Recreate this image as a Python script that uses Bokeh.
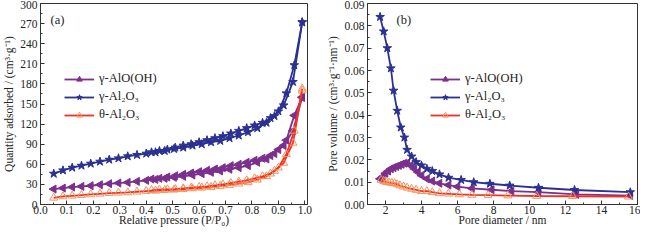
import numpy as np
from bokeh.plotting import figure
from bokeh.layouts import row
from bokeh.models import Legend, LegendItem, Label, NumeralTickFormatter, Range1d, SingleIntervalTicker
from bokeh.embed import file_html
from bokeh.resources import INLINE

# ---------------- (a) N2 isotherms ----------------
p_ads = [0.05, 0.085, 0.12, 0.155, 0.19, 0.225, 0.26, 0.295, 0.33, 0.365, 0.40, 0.435, 0.47, 0.505,
         0.54, 0.575, 0.61, 0.645, 0.68, 0.715, 0.75, 0.785, 0.82, 0.855, 0.885, 0.92, 0.955, 0.99]
p_des = [0.99, 0.96, 0.93, 0.90, 0.87, 0.84, 0.81, 0.78, 0.75, 0.72, 0.69, 0.66, 0.63, 0.60,
         0.57, 0.54, 0.51, 0.48, 0.45, 0.42]

boe_ads = [23, 24.5, 26, 27, 28, 29.5, 31, 32, 33, 34.5, 36, 37.5, 39, 40.5,
           42, 44, 46, 48, 50, 52.5, 55, 58, 63, 68, 76, 88, 110, 160]
boe_des = [160, 133, 96, 82, 73, 69, 66, 63, 60, 58, 55, 53, 51, 49,
           47, 45, 43, 41, 39, 38]

gam_ads = [46, 51, 55, 58, 61, 64, 67, 69, 72, 74, 76, 78, 80, 83,
           85, 88, 90, 93, 95, 99, 103, 108, 114, 122, 132, 148, 183, 272]
gam_des = [272, 208, 166, 139, 129, 122, 118, 114, 110, 106, 102, 99, 96, 93,
           90, 88, 85, 82, 80, 78]

the_ads = [10, 12, 13, 14, 15, 16, 17, 17.5, 18, 19, 20, 20.5, 21.5, 22,
           23, 24, 25, 26, 27.5, 29, 31, 33, 37, 42, 50, 62, 92, 170]
the_des = [173, 110, 75, 55, 46, 42, 39, 36, 34, 32, 30, 28.5, 27, 26,
           25, 24, 23, 22.5, 22, 21.5]

# ---------------- (b) pore size distribution ----------------
d_boe = [1.7, 1.85, 2.0, 2.15, 2.3, 2.45, 2.6, 2.75, 2.9, 3.05, 3.2, 3.4, 3.6, 3.8, 4.0,
         4.3, 4.6, 5.0, 5.5, 6.0, 6.8, 7.9, 9.0, 10.5, 12.6, 15.6]
v_boe = [0.0115, 0.0125, 0.014, 0.015, 0.016, 0.0165, 0.017, 0.0175, 0.018, 0.0185, 0.0185,
         0.0175, 0.016, 0.0145, 0.013, 0.0115, 0.0105, 0.0095, 0.0087, 0.008, 0.0072,
         0.0066, 0.006, 0.0055, 0.0045, 0.004]

d_gam = [1.7, 1.9, 2.1, 2.3, 2.45, 2.65, 2.85, 3.05, 3.2, 3.45, 3.7, 4.0, 4.3, 4.6, 5.0,
         5.5, 6.2, 6.9, 7.8, 8.9, 10.5, 12.5, 15.6]
v_gam = [0.084, 0.0775, 0.070, 0.061, 0.051, 0.042, 0.0345, 0.030, 0.0245, 0.0215, 0.019,
         0.0175, 0.016, 0.015, 0.0135, 0.012, 0.011, 0.010, 0.0093, 0.0085, 0.0075,
         0.0065, 0.0055]

d_the = [1.75, 1.9, 2.05, 2.2, 2.35, 2.5, 2.65, 2.8, 3.0, 3.2, 3.45, 3.7, 4.0, 4.3, 4.6,
         5.0, 5.5, 6.1, 6.8, 7.7, 8.8, 10.4, 12.4, 15.5]
v_the = [0.011, 0.0105, 0.010, 0.0098, 0.0096, 0.0095, 0.009, 0.0085, 0.008, 0.0075, 0.007,
         0.0065, 0.006, 0.006, 0.0055, 0.005, 0.0048, 0.0045, 0.0043, 0.0042, 0.004,
         0.0038, 0.0037, 0.0035]

labels = ["\u03b3-AlO(OH)", "\u03b3-Al\u2082O\u2083", "\u03b8-Al\u2082O\u2083"]
xlabels = ["Relative pressure (P/P\u2080)", "Pore diameter / nm"]
ylabels = ["Quantity adsorbed / (cm\u00b3\u00b7g\u207b\u00b9)",
           "Pore volume / (cm\u00b3\u00b7g\u207b\u00b9\u00b7nm\u207b\u00b9)"]

PURPLE = "#7d2f8e"
BLUE = "#2b3192"
RED = "#ee3124"
ORANGE = "#f7925a"
FONT = "Liberation Serif, 'Times New Roman', Times, serif"
H = 228


def style(p):
    p.outline_line_color = "#333333"
    p.outline_line_width = 1
    p.grid.visible = False
    p.background_fill_color = "white"
    p.border_fill_color = "white"
    for ax in (p.xaxis[0], p.yaxis[0]):
        ax.major_tick_in = 4
        ax.major_tick_out = 0
        ax.minor_tick_in = 2
        ax.minor_tick_out = 0
        ax.axis_line_color = "#333333"
        ax.major_tick_line_color = "#333333"
        ax.minor_tick_line_color = "#333333"
        ax.major_label_text_font = FONT
        ax.major_label_text_font_size = "11.5px"
        ax.major_label_text_color = "#222222"
        ax.axis_label_text_font = FONT
        ax.axis_label_text_font_size = "11.5px"
        ax.axis_label_text_font_style = "normal"
        ax.axis_label_text_color = "#222222"
        ax.major_label_standoff = 3
        ax.axis_label_standoff = 2
    p.xaxis[0].major_label_standoff = 1
    p.xaxis[0].axis_label_standoff = -3


def add_series(p, xs_list, ys_list, color, mcolor, marker, fill, angle, size):
    rends = []
    for xs, ys in zip(xs_list, ys_list):
        l = p.line(xs, ys, line_color=color, line_width=1.8)
        s = p.scatter(xs, ys, marker=marker, size=size, angle=angle,
                      line_color=mcolor, fill_color=(mcolor if fill else None),
                      line_width=1)
        rends += [l, s]
    return rends


def make_legend(p, items, loc):
    leg = Legend(items=items, location=loc, orientation="vertical",
                 background_fill_alpha=0, border_line_alpha=0,
                 padding=0, margin=0, spacing=3, glyph_width=30, glyph_height=14,
                 label_height=14, label_standoff=5,
                 label_text_font=FONT, label_text_font_size="12.5px",
                 label_text_color="#222222")
    p.add_layout(leg)


# ---------- panel (a) ----------
pa = figure(width=318, height=H, output_backend="svg", toolbar_location=None,
            x_range=Range1d(0, 1.01), y_range=Range1d(0, 300),
            min_border_left=39, min_border_right=11, min_border_top=3)
style(pa)
pa.xaxis.axis_label = xlabels[0]
pa.yaxis.axis_label = ylabels[0]
pa.xaxis.ticker = SingleIntervalTicker(interval=0.1, num_minor_ticks=2)
pa.yaxis.ticker = SingleIntervalTicker(interval=30, num_minor_ticks=2)
pa.xaxis.formatter = NumeralTickFormatter(format="0.0")

ra_boe = add_series(pa, [p_ads, p_des], [boe_ads, boe_des], PURPLE, PURPLE, "triangle", True, np.pi / 2, 8)
ra_gam = add_series(pa, [p_ads, p_des], [gam_ads, gam_des], BLUE, BLUE, "star", True, 0, 9)
ra_the = add_series(pa, [p_ads, p_des], [the_ads, the_des], RED, ORANGE, "triangle", False, 0, 8)
make_legend(pa, [LegendItem(label=labels[0], renderers=ra_boe[:2]),
                 LegendItem(label=labels[1], renderers=ra_gam[:2]),
                 LegendItem(label=labels[2], renderers=ra_the[:2])], (24, 82))
pa.add_layout(Label(x=10, y=178, x_units="screen", y_units="screen", text="(a)",
                    text_font=FONT, text_font_size="12.5px", text_color="#222222"))

# ---------- panel (b) ----------
pb = figure(width=322, height=H, output_backend="svg", toolbar_location=None,
            x_range=Range1d(1.0, 16.0), y_range=Range1d(0, 0.09),
            min_border_left=49, min_border_right=3, min_border_top=3)
style(pb)
pb.xaxis.axis_label = xlabels[1]
pb.yaxis.axis_label = ylabels[1]
pb.xaxis.ticker = SingleIntervalTicker(interval=2, num_minor_ticks=2)
pb.yaxis.ticker = SingleIntervalTicker(interval=0.01, num_minor_ticks=2)
pb.yaxis.formatter = NumeralTickFormatter(format="0.00")

rb_boe = add_series(pb, [d_boe], [v_boe], PURPLE, PURPLE, "triangle", True, np.pi / 2, 8)
rb_gam = add_series(pb, [d_gam], [v_gam], BLUE, BLUE, "star", True, 0, 9)
rb_the = add_series(pb, [d_the], [v_the], RED, ORANGE, "triangle", False, 0, 8)
make_legend(pb, [LegendItem(label=labels[0], renderers=rb_boe),
                 LegendItem(label=labels[1], renderers=rb_gam),
                 LegendItem(label=labels[2], renderers=rb_the)], (63, 82))
pb.add_layout(Label(x=29, y=178, x_units="screen", y_units="screen", text="(b)",
                    text_font=FONT, text_font_size="12.5px", text_color="#222222"))

layout = row(pa, pb)
open("out.html", "w").write(file_html(layout, INLINE))
